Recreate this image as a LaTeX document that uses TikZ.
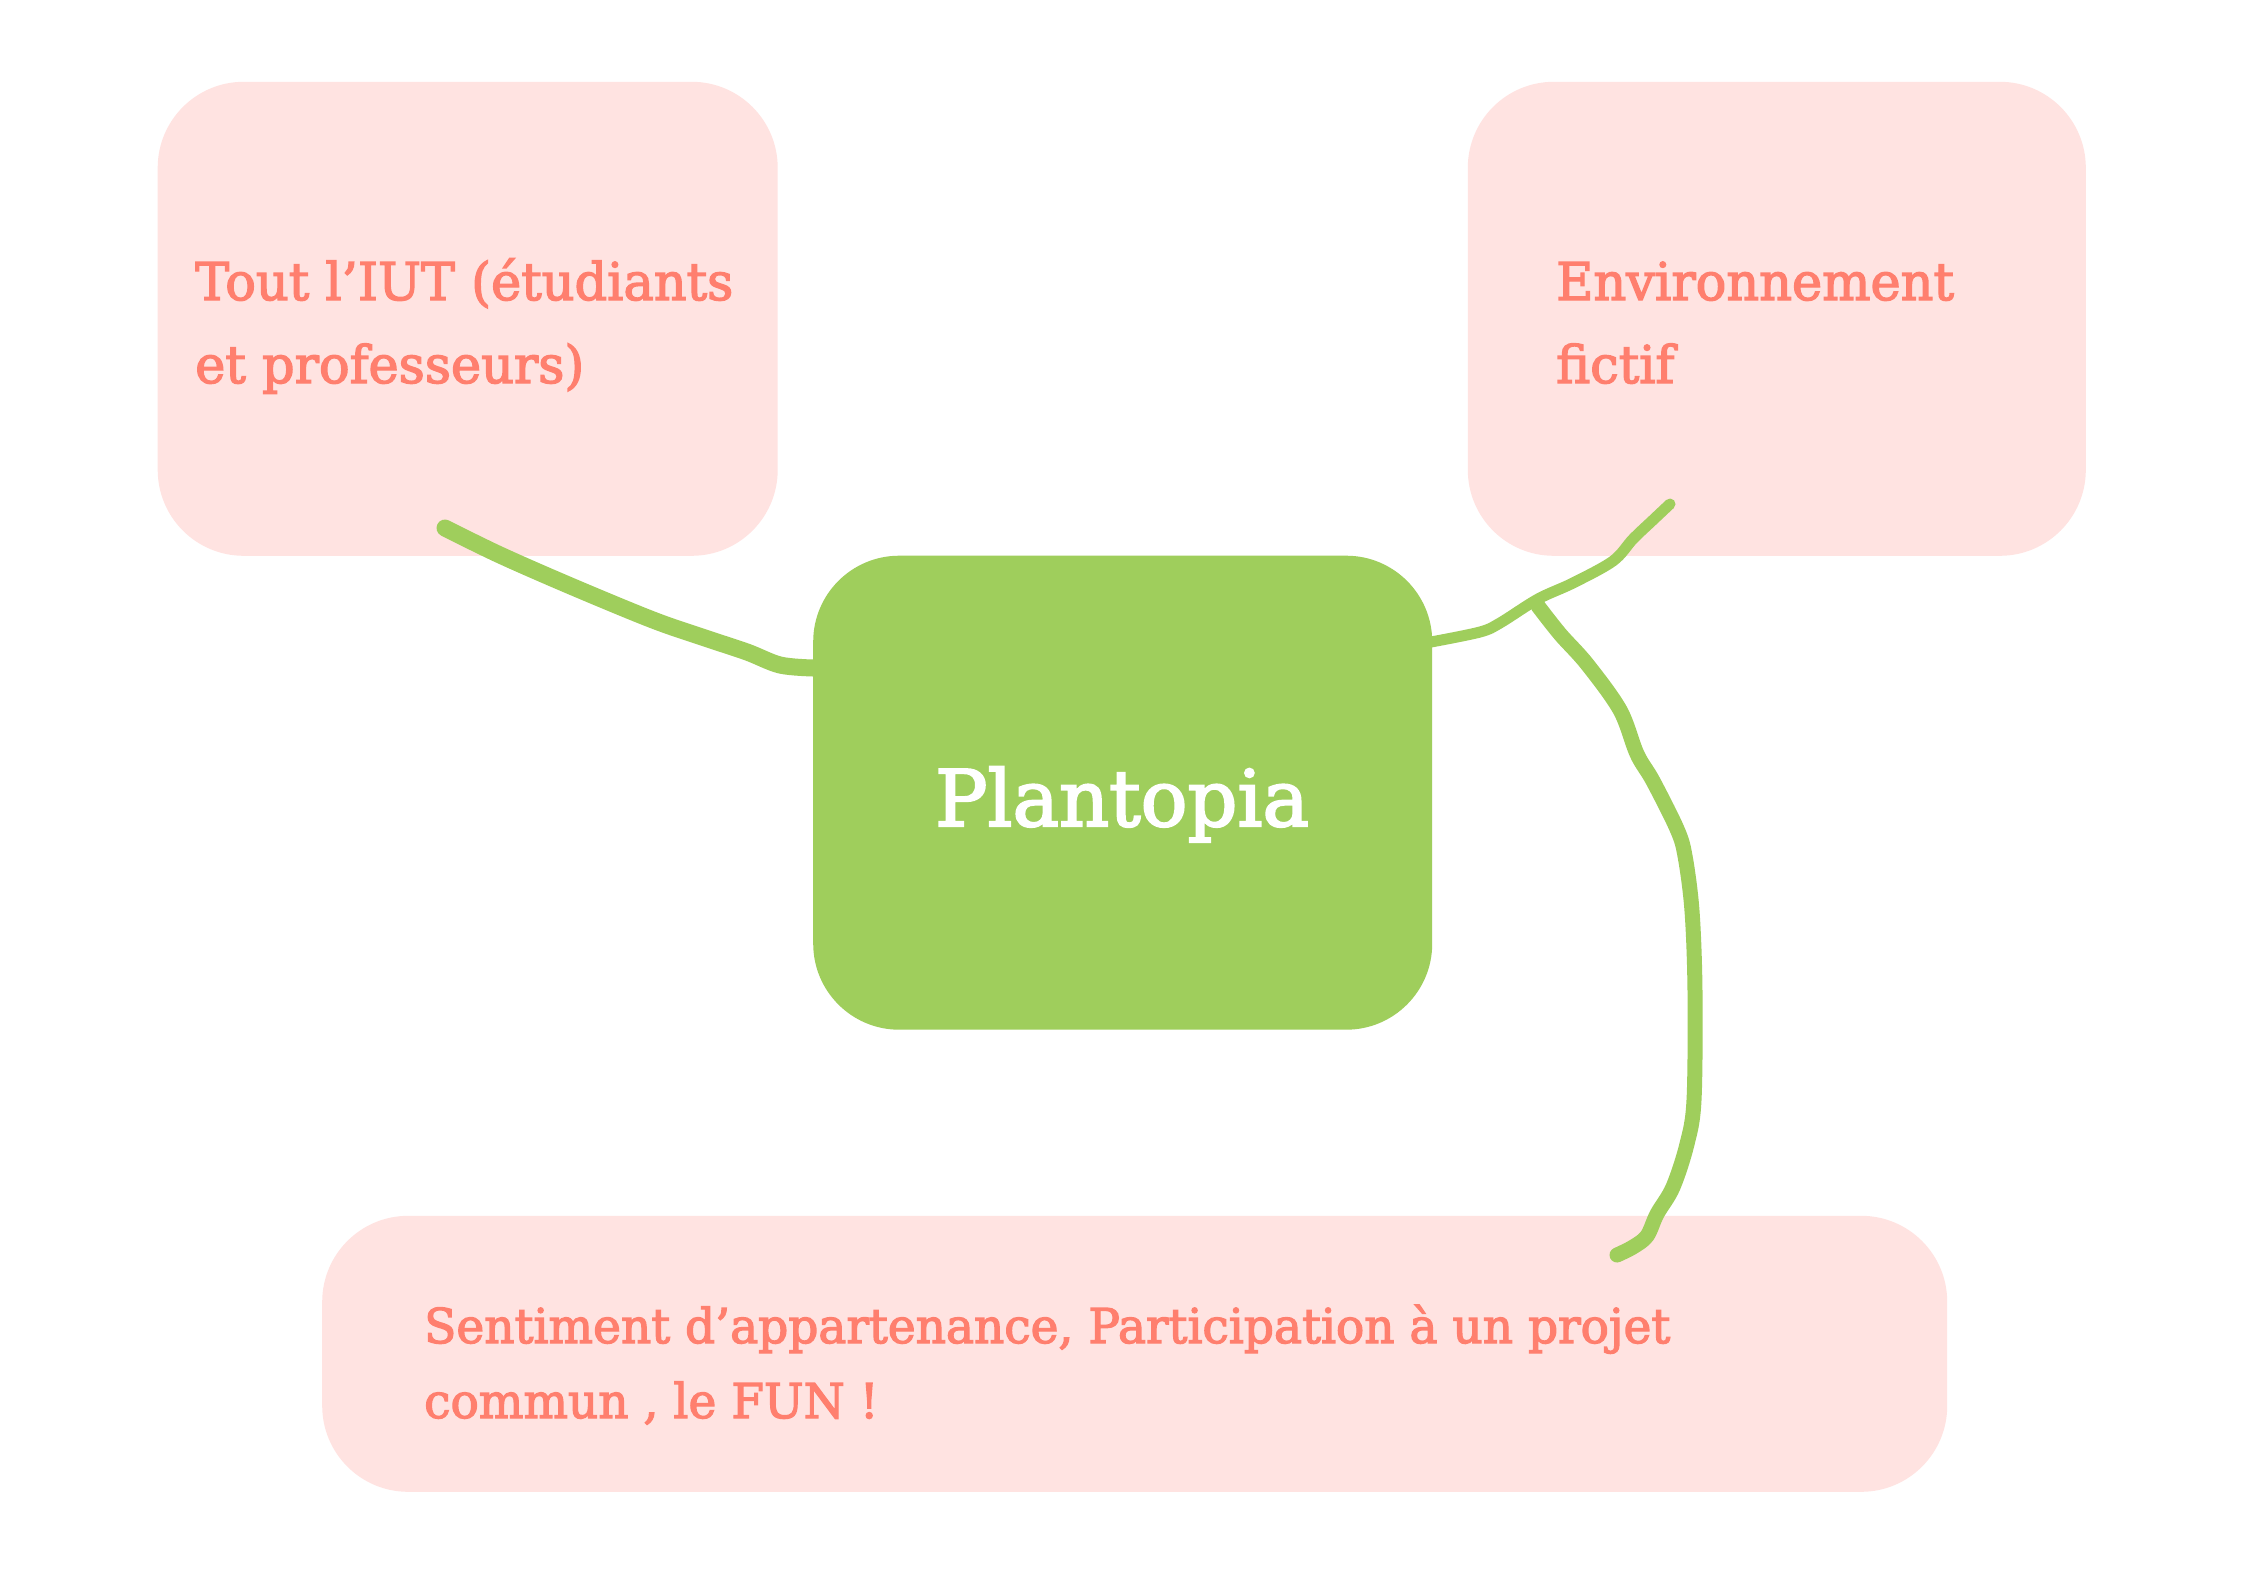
\documentclass[tikz,border=0pt]{standalone}
\usepackage{fontspec}
\setmainfont{DejaVu Serif}
\newfontfamily\brfont[FakeBold=2.6,FakeStretch=0.98]{DejaVu Serif}
\newfontfamily\brfontw[FakeBold=2.6]{DejaVu Serif}
\definecolor{pinkbox}{HTML}{FFE3E1}
\definecolor{salmon}{HTML}{FF7F6E}
\definecolor{leaf}{HTML}{9FCE5C}
\begin{document}
\begin{tikzpicture}[x=1pt,y=-1pt,
  boxp/.style={fill=pinkbox, rounded corners=86pt, inner sep=0pt, anchor=north west, draw=none},
  boxg/.style={fill=leaf, rounded corners=86pt, inner sep=0pt, anchor=north west, draw=none},
  txt/.style={text=salmon, inner sep=0pt, anchor=base west, font=\brfont\fontsize{52}{62}\selectfont},
  txtc/.style={text=salmon, inner sep=0pt, anchor=base west, font=\brfont\fontsize{48}{58}\selectfont},
  stem/.style={draw=leaf, line cap=round, line join=round}]
\useasboundingbox (0,0) rectangle (2245,1587);
\fill[white] (0,0) rectangle (2245,1587);
% boxes
\node[boxp, minimum width=620pt, minimum height=474pt] (boxA) at (157.5,81.6) {};
\node[boxp, minimum width=618pt, minimum height=474pt] (boxB) at (1467.6,81.6) {};
\node[boxg, minimum width=619pt, minimum height=474pt] (boxG) at (813,555.5) {};
\node[boxp, minimum width=1625pt, minimum height=276pt] (boxC) at (322,1215.6) {};
% connector end points
\coordinate (a1) at (445,528);
\coordinate (g1) at (813,668);
\coordinate (g2) at (1431,642);
\coordinate (b1) at (1670,504);
\coordinate (br) at (1538,606);
\coordinate (c1) at (1617,1255);
% connectors
\draw[stem, line width=17pt] plot[smooth, tension=0.55] coordinates {(a1) (500,555) (573,587) (653,620) (705,638) (747,652) (780,665) (g1)};
\draw[stem, line width=11pt] plot[smooth, tension=0.55] coordinates {(g2) (1480,632) (1500,623) (1538,599) (1573,583) (1613,561) (1633,539) (1653,520) (b1)};
\draw[stem, line width=15pt] plot[smooth, tension=0.55] coordinates {(br) (1560,634) (1587,664) (1620,710) (1637,754) (1653,781) (1677,829) (1685,856) (1692,911) (1695,992) (1694,1100) (1687,1144) (1673,1187) (1657,1214) (1647,1236) (1633,1247) (c1)};
% texts
\node[txt] (tA1) at (195,300) {Tout l’IUT (étudiants};
\node[txt] (tA2) at (195,383) {et professeurs)};
\node[txt] (tB1) at (1556,300) {Environnement};
\node[txt] (tB2) at (1556,383) {fictif};
\node[txtc] (tC1) at (424,1343) {Sentiment d’appartenance, Participation à un projet};
\node[txtc] (tC2) at (424,1418) {commun , le FUN !};
\node[text=white, inner sep=0pt, anchor=base, font=\brfontw\fontsize{78}{90}\selectfont] (tG) at (1122,826) {Plantopia};
\end{tikzpicture}
\end{document}
